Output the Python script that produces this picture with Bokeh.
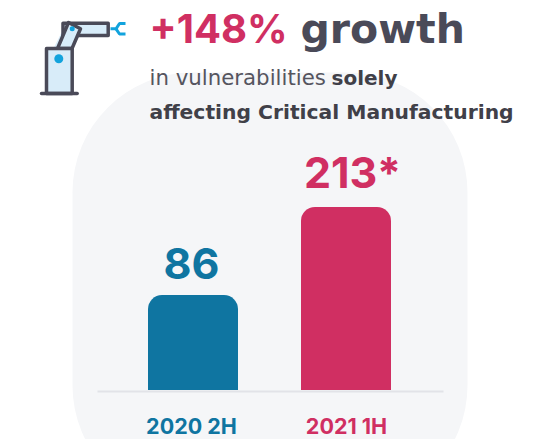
from bokeh.plotting import figure
from bokeh.models import Range1d
from bokeh.embed import file_html
from bokeh.resources import INLINE
from bokeh.core.properties import value

# The data
periods = ["2020 2H", "2021 1H"]
value_labels = ["86", "213*"]
# Drawn bar lengths, scaled so 213 is the tall bar.
# The source's bars are not proportional to their labels: the short bar is
# drawn longer than 86 would be.
bar_lengths = [110.5, 213]
bar_colors = ["#0F75A1", "#D02F62"]

W, H = 533, 439
PINK, DARK, ICON_BLUE, ICON_FILL = "#D02F62", "#4A4A58", "#12A3DD", "#D8ECF9"
FONT = "Inter"
WIDE = "DejaVu Sans"

PX_X = 153.0
PX_Y = 183.0 / 213
p = figure(width=W, height=H, output_backend="svg", toolbar_location=None,
           x_range=Range1d((0 - 192.5) / PX_X, (533 - 192.5) / PX_X),
           y_range=Range1d(-(439 - 389.5) / PX_Y, 389.5 / PX_Y),
           min_border=0, outline_line_color=None, background_fill_color="white",
           border_fill_color="white")
p.xaxis.visible = False
p.yaxis.visible = False
p.grid.visible = False
p.extra_x_ranges = {"px": Range1d(0, 533)}
p.extra_y_ranges = {"px": Range1d(439, 0)}
px = dict(x_range_name="px", y_range_name="px")

# Panel
p.quad(left=[72], right=[467], top=[72], bottom=[505], fill_color="#F5F6F8", line_color=None,
       border_radius=120, **px)
# Baseline
p.line([97, 443], [391, 391], line_color="#E2E3E8", line_width=2, **px)

# Bars
xs = list(range(len(periods)))
p.vbar(x=xs, top=bar_lengths, bottom=0, width=90 / PX_X, fill_color=bar_colors, line_color=None,
       border_radius=(14, 14, 0, 0))

# Value labels and period labels
p.text(x=xs, y=bar_lengths, text=value_labels, text_color=bar_colors, text_align="center",
       text_baseline="alphabetic", text_font=value(FONT), text_font_style="bold",
       x_offset=[-1.5, 6.5], y_offset=[-31.5, -35.5], text_font_size=value("43px"))
p.text(x=xs, y=[0, 0], text=periods, text_color=bar_colors, text_align="center",
       text_baseline="alphabetic", text_font=value(FONT), text_font_style="bold",
       x_offset=[-1.5, 0.5], y_offset=36, text_font_size=value("21.5px"))

# Title
def lab(x, y, t, color, size, style="bold", font=WIDE):
    p.text(x=[x], y=[y], text=[t], text_color=color, text_font=value(font), text_font_style=style,
           text_font_size=value(size), text_baseline="alphabetic", **px)
lab(149, 28, "+148%", PINK, "40px", font=FONT)
lab(300, 28, "growth", DARK, "41px")
lab(149, 76.5, "in vulnerabilities", "#55555F", "21.3px", "normal")
lab(331, 77, "solely", "#404048", "20px")
lab(149, 111, "affecting Critical Manufacturing", "#404048", "20.3px")

# Icon
S = dict(line_color=DARK, line_width=3.5, line_join="round")
p.patch([53, 64, 80, 71], [48, 26, 28, 48], fill_color=ICON_FILL, line_color=None, **px)
p.quad(left=[62.5], right=[107.7], top=[22.7], bottom=[35], fill_color=ICON_FILL, **S, **px)
p.patch([68, 80, 71.5, 57], [22, 28.3, 48, 48], fill_color=ICON_FILL, **S, **px)
p.quad(left=[46], right=[71.7], top=[48], bottom=[93], fill_color=ICON_FILL, **S, **px)
p.line([41, 76.7], [93, 93], line_color=DARK, line_width=3.5, line_cap="round", **px)
p.scatter([58.3], [58.3], size=9, fill_color=ICON_BLUE, line_color=None, **px)
p.scatter([71.7], [28.3], size=5, fill_color=ICON_BLUE, line_color=None, **px)
p.line([110, 115.5, 119, 125], [28.3, 28.3, 23, 23], line_color=ICON_BLUE, line_width=3, **px)
p.line([115.5, 119, 125], [28.3, 33.5, 33.5], line_color=ICON_BLUE, line_width=3, **px)

open("out.html", "w").write(file_html(p, INLINE))
